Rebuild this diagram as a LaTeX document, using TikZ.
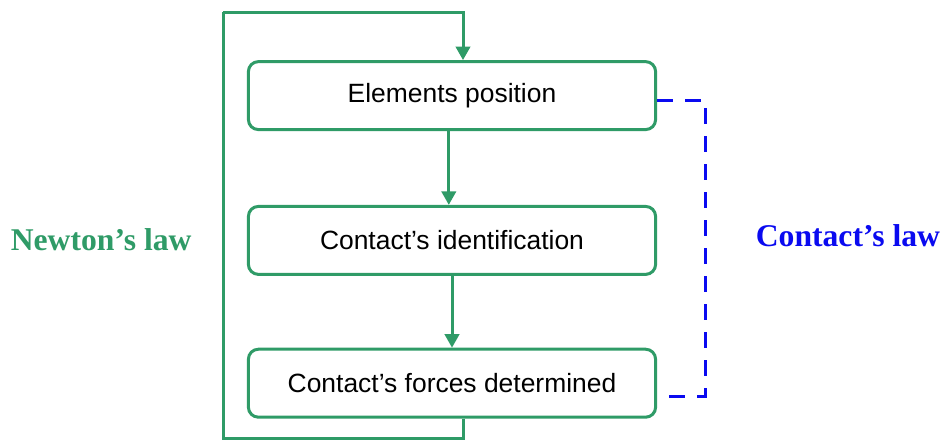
\documentclass[tikz,border=0pt]{standalone}
\usepackage{fontspec}
\setmainfont{Liberation Serif}
\newfontfamily\boxfont{Liberation Sans}
\usepackage{tikz}
\usetikzlibrary{arrows.meta}
\usetikzlibrary{calc}
\usetikzlibrary{positioning}
\definecolor{lawgreen}{RGB}{47,155,103}
\definecolor{lawblue}{RGB}{10,10,240}
\tikzstyle{stage}=[shape=rectangle,draw=lawgreen,line width=0.075cm,rounded corners=0.25cm,minimum width=10.18cm,minimum height=1.7cm,inner sep=0pt,font=\boxfont\fontsize{18.8}{22}\selectfont]
\tikzstyle{flow}=[draw=lawgreen,line width=0.075cm,-{Triangle[width=0.36cm,length=0.34cm]}]
\tikzstyle{cycle}=[draw=lawgreen,line width=0.075cm]
\tikzstyle{link}=[draw=lawblue,line width=0.075cm,dash pattern=on 0.4cm off 0.3cm]
\tikzstyle{law}=[font=\bfseries\fontsize{22.5}{26}\selectfont]

\begin{document}
\begin{tikzpicture}
\useasboundingbox (0,0) rectangle (23.6,-11.025);

\node[stage] (pos) at (11.3,-2.39) {Elements position};
\node[stage] (ident) at (11.3,-6.01) {Contact’s identification};
\node[stage] (forces) at (11.3,-9.58) {Contact’s forces determined};

\node[law, text=lawgreen] (newton) at (2.53,-6.0) {Newton’s law};
\node[law, text=lawblue] (contact) at (21.2,-5.88) {Contact’s law};

% corners of the outer loop
\coordinate (lp1) at (11.575,-10.96);
\coordinate (lp2) at (5.575,-0.3);
% corners of the dashed link
\coordinate (cl1) at (17.625,-2.5);
\coordinate (cl2) at (17.625,-9.9);

\draw[flow] (pos.south-|11.22,0) -- (ident.north-|11.22,0);
\draw[flow] (ident) -- (forces);
\draw[cycle] (forces.south-|lp1) -- (lp1) -| (lp2);
\draw[flow] (lp2) -| (pos.north-|lp1);
\draw[link] (pos.east|-cl1) -- (cl1) -- (cl2) -- (forces.east|-cl2);
\end{tikzpicture}
\end{document}
